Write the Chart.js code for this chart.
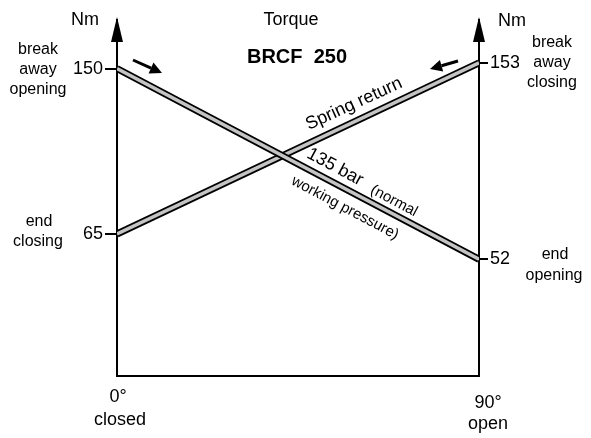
<!DOCTYPE html>
<html>
<head>
<meta charset="utf-8">
<script src="https://cdn.jsdelivr.net/npm/chart.js@4.4.1/dist/chart.umd.min.js"></script>
<style>
  html, body { margin: 0; padding: 0; background: #fff; }
  #wrap { width: 591px; height: 438px; }
</style>
</head>
<body>
<div id="wrap"><canvas id="torque"></canvas></div>
<script>
// angle of the actuator, degrees
const angles = [0, 90];
// torque in Nm at 0° and 90°
const pressureTorque = [150, 52];   // 135 bar (normal working pressure)
const springTorque = [65, 153];     // spring return
const leftTicks = [150, 65];
const rightTicks = [153, 52];

const FONT = '"Liberation Sans", Arial, sans-serif';

const toPoints = (vals) => angles.map((a, i) => ({ x: a, y: vals[i] }));

// two passes per curve: black outline, grey core (lower order = drawn on top)
const band = (label, vals, outline, order) => ({
  label: label,
  data: toPoints(vals),
  borderColor: outline ? '#000' : '#c4c4c4',
  borderWidth: outline ? 7 : 3.5,
  borderCapStyle: 'butt',
  pointRadius: 0,
  fill: false,
  tension: 0,
  order: order
});

const decorations = {
  id: 'decorations',
  afterDraw(chart) {
    const ctx = chart.ctx;
    const { left, right, top } = chart.chartArea;
    ctx.save();
    ctx.fillStyle = '#000';
    ctx.strokeStyle = '#000';

    // arrow heads on the two vertical axes
    [left, right].forEach(x => {
      ctx.beginPath();
      ctx.moveTo(x, top - 3);
      ctx.lineTo(x - 6, top + 22);
      ctx.lineTo(x + 6, top + 22);
      ctx.closePath();
      ctx.fill();
    });

    const text = (str, x, y, size, bold) => {
      ctx.font = (bold ? 'bold ' : '') + size + 'px ' + FONT;
      ctx.textAlign = 'center';
      ctx.textBaseline = 'middle';
      ctx.fillText(str, x, y);
    };

    text('Nm', 85, 20, 18);
    text('Nm', 512, 21, 18);
    text('Torque', 291, 20, 18);
    text('BRCF  250', 297, 57, 20, true);

    text('break', 38, 50, 16);
    text('away', 38, 70, 16);
    text('opening', 38, 90, 16);
    text('end', 39, 222, 16);
    text('closing', 38, 242, 16);

    text('break', 552, 43, 16);
    text('away', 552, 63, 16);
    text('closing', 552, 83, 16);
    text('end', 555, 255, 16);
    text('opening', 554, 276, 16);

    text('0°', 118, 397, 18);
    text('closed', 120, 420, 18);
    text('90°', 488, 403, 18);
    text('open', 488, 424, 18);

    const rotated = (str, x, y, deg, size) => {
      ctx.save();
      ctx.translate(x, y);
      ctx.rotate(deg * Math.PI / 180);
      text(str, 0, 0, size);
      ctx.restore();
    };
    rotated('Spring return', 354, 104, -24.5, 18);
    rotated('135 bar', 335, 167, 28, 18);
    rotated('(normal', 394, 201, 28, 15);
    rotated('working pressure)', 345, 208, 28, 15);

    // direction arrows
    const arrow = (x1, y1, x2, y2) => {
      const a = Math.atan2(y2 - y1, x2 - x1);
      const hl = 12, hw = 6;
      const bx = x2 - hl * Math.cos(a), by = y2 - hl * Math.sin(a);
      ctx.lineWidth = 3;
      ctx.beginPath();
      ctx.moveTo(x1, y1);
      ctx.lineTo(bx, by);
      ctx.stroke();
      ctx.beginPath();
      ctx.moveTo(x2, y2);
      ctx.lineTo(bx + hw * Math.sin(a), by - hw * Math.cos(a));
      ctx.lineTo(bx - hw * Math.sin(a), by + hw * Math.cos(a));
      ctx.closePath();
      ctx.fill();
    };
    arrow(133, 60, 162, 73);
    arrow(458, 61, 430, 69);

    ctx.restore();
  }
};

const ctx = document.getElementById('torque').getContext('2d');
new Chart(ctx, {
  type: 'line',
  data: {
    datasets: [
      band('135 bar', pressureTorque, false, 0),
      band('135 bar', pressureTorque, true, 1),
      band('Spring return', springTorque, false, 2),
      band('Spring return', springTorque, true, 3)
    ]
  },
  options: {
    responsive: true,
    maintainAspectRatio: false,
    animation: false,
    layout: {
      padding: { top: 20, left: 73, right: 72, bottom: 62 }
    },
    plugins: {
      legend: { display: false },
      tooltip: { enabled: false }
    },
    scales: {
      x: {
        type: 'linear',
        min: 0,
        max: 90,
        ticks: { display: false },
        grid: { display: false },
        border: { display: true, color: '#000', width: 2 },
        afterFit: (s) => { s.height = 0; }
      },
      y: {
        type: 'linear',
        position: 'left',
        min: -8,
        max: 175,
        afterBuildTicks: (s) => { s.ticks = leftTicks.map(v => ({ value: v })); },
        ticks: {
          color: '#000',
          padding: 2,
          font: { family: FONT, size: 18 }
        },
        grid: {
          drawOnChartArea: false,
          tickLength: 12,
          color: '#000',
          lineWidth: 2
        },
        border: { display: true, color: '#000', width: 2 },
        afterFit: (s) => { s.width = 44; }
      },
      y2: {
        type: 'linear',
        position: 'right',
        min: -8,
        max: 175,
        afterBuildTicks: (s) => { s.ticks = rightTicks.map(v => ({ value: v })); },
        ticks: {
          color: '#000',
          padding: 2,
          font: { family: FONT, size: 18 }
        },
        grid: {
          drawOnChartArea: false,
          tickLength: 9,
          color: '#000',
          lineWidth: 2
        },
        border: { display: true, color: '#000', width: 2 },
        afterFit: (s) => { s.width = 40; }
      }
    }
  },
  plugins: [decorations]
});
</script>
</body>
</html>
